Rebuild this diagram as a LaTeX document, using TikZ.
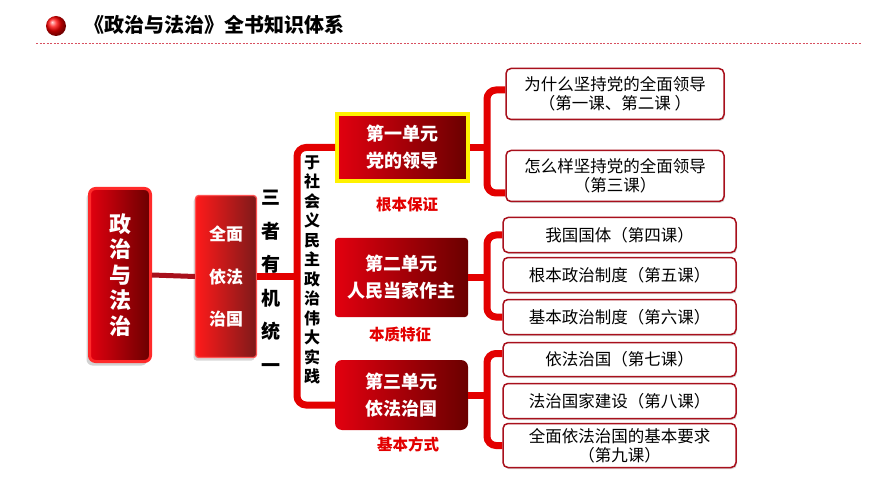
\documentclass[tikz,border=0pt]{standalone}
\usepackage{fontspec}
\setmainfont{Noto Sans CJK SC}
\usepackage{xcolor}
\usepackage{tikz}
\usetikzlibrary{shadows}
\definecolor{brightred}{HTML}{E2000F}
\definecolor{deepred}{HTML}{6A0000}
\definecolor{bracketred}{HTML}{E30000}
\definecolor{framered}{HTML}{A8101C}
\definecolor{dashred}{HTML}{D85060}
\definecolor{glowred}{HTML}{FF2A2A}
\definecolor{rustred}{HTML}{7E1A1A}

\begin{document}
\begin{tikzpicture}[x=1pt,y=-1pt]
\tikzstyle{every node}+=[inner sep=0pt]
\tikzstyle{redbox}=[shading=axis, left color=brightred, right color=deepred, text=white, align=center, font=\bfseries\fontsize{18}{27}\selectfont]
\tikzstyle{lesson}=[draw=framered, line width=1.5pt, rounded corners=5pt, fill=white, align=center, font=\fontsize{16.5}{19}\selectfont, drop shadow={shadow xshift=1pt, shadow yshift=-1.5pt, opacity=0.3}]
\tikzstyle{bracket}=[draw=bracketred, line width=7pt, rounded corners=9pt]
\tikzstyle{tag}=[text=bracketred, font=\bfseries\fontsize{15.5}{18}\selectfont]
\useasboundingbox (0,0) rectangle (870,489);
\fill [white] (0,0) rectangle (870,489);
\shade [ball color=red] (56,26) circle (10);
\node [anchor=west, font=\bfseries\fontsize{20}{24}\selectfont] (title) at (84,25) {《政治与法治》全书知识体系};
\draw [dashred, line width=0.8pt, dash pattern=on 2pt off 1.5pt] (36,43) -- (862,43);
\node [redbox, draw=glowred, line width=3pt, rounded corners=6pt, minimum width=61pt, minimum height=173pt, font=\bfseries\fontsize{22}{25.5}\selectfont, drop shadow={shadow xshift=-3pt, shadow yshift=-4pt, opacity=0.35}] (whole) at (120,275) {政\\治\\与\\法\\治};
\node [redbox, draw=glowred!80, line width=1.2pt, rounded corners=3pt, minimum width=61pt, minimum height=162pt, left color=red!90!white, right color=rustred, font=\bfseries\fontsize{17}{42.5}\selectfont, drop shadow={shadow xshift=-2pt, shadow yshift=-3pt, opacity=0.3}] (rule) at (226,276.5) {全面\\依法\\治国};
\node [font=\bfseries\fontsize{19}{33.5}\selectfont, align=center] (unity) at (271,281.5) {三\\者\\有\\机\\统\\一};
\node [font=\bfseries\fontsize{16}{19.5}\selectfont, align=center] (practice) at (312,270) {于\\社\\会\\义\\民\\主\\政\\治\\伟\\大\\实\\践};
\node [redbox, draw=yellow, line width=4pt, minimum width=131pt, minimum height=67pt] (unit1) at (402.5,147.5) {第一单元\\党的领导};
\node [redbox, rounded corners=3pt, minimum width=133pt, minimum height=79pt] (unit2) at (401.5,277.5) {第二单元\\人民当家作主};
\node [redbox, rounded corners=7pt, minimum width=133pt, minimum height=70pt] (unit3) at (401.5,395) {第三单元\\依法治国};
\node [tag] (tag1) at (407,205) {根本保证};
\node [tag] (tag2) at (400,335) {本质特征};
\node [tag] (tag3) at (408,445) {基本方式};
\node [lesson, minimum width=218pt, minimum height=51pt] (lesson1) at (615,94) {为什么坚持党的全面领导\\（第一课、第二课 ）};
\node [lesson, minimum width=218pt, minimum height=51pt] (lesson2) at (615,176) {怎么样坚持党的全面领导\\（第三课）};
\node [lesson, minimum width=233pt, minimum height=35pt] (lesson3) at (619.5,235) {我国国体（第四课）};
\node [lesson, minimum width=233pt, minimum height=35pt] (lesson4) at (619.5,275) {根本政治制度（第五课）};
\node [lesson, minimum width=233pt, minimum height=35pt] (lesson5) at (619.5,317) {基本政治制度（第六课）};
\node [lesson, minimum width=233pt, minimum height=34pt] (lesson6) at (619.5,359.5) {依法治国（第七课）};
\node [lesson, minimum width=233pt, minimum height=35pt] (lesson7) at (619.5,401) {法治国家建设（第八课）};
\node [lesson, minimum width=233pt, minimum height=44pt] (lesson8) at (619.5,445.5) {全面依法治国的基本要求\\（第九课）};
\draw [framered, line width=5pt] (whole.east) -- (rule.west);
\coordinate (fork) at (297,276.5);
\draw [bracket] (rule.east) -- (fork);
\draw [bracket] (unit1.west) -| (fork) |- ([yshift=-10pt]unit3.west);
\coordinate (fork1) at (487,147.5);
\draw [bracket] (unit1.east) -- (fork1);
\draw [bracket] ([yshift=4pt]lesson1.west) -| (fork1) |- ([yshift=-17pt]lesson2.west);
\coordinate (fork2) at (487,277.5);
\draw [bracket] (unit2.east) -- (fork2);
\draw [bracket] (lesson3.west) -| (fork2) |- (lesson5.west);
\coordinate (fork3) at (487,395);
\draw [bracket] (unit3.east) -- (fork3);
\draw [bracket] ([yshift=6pt]lesson6.west) -| (fork3) |- (lesson8.west);
\end{tikzpicture}
\end{document}
